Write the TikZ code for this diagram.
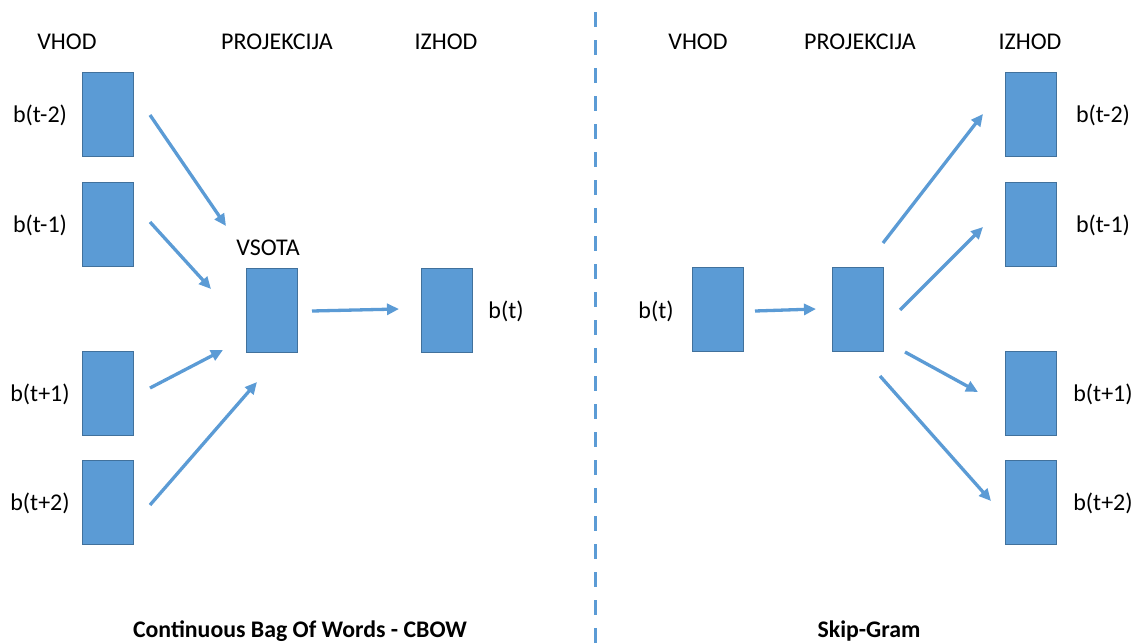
\documentclass[tikz,border=0pt]{standalone}
\usepackage{fontspec}
\setmainfont{Carlito}
\usetikzlibrary{arrows.meta}
\definecolor{boxfill}{HTML}{5B9BD5}
\definecolor{boxline}{HTML}{41719C}
\begin{document}
\begin{tikzpicture}[x=1pt,y=-1pt,
  wbox/.style={draw=boxline,line width=0.8pt,fill=boxfill,minimum width=51pt,minimum height=84pt,inner sep=0pt,anchor=north west},
  lbl/.style={font=\fontsize{24}{28}\selectfont,inner sep=0pt},
  ttl/.style={font=\bfseries\fontsize{23.8}{28}\selectfont,inner sep=0pt},
  conn/.style={draw=boxfill,line width=3.3pt,-{Triangle[length=12pt,width=11pt]}}]
\useasboundingbox (0,0) rectangle (1136,643);
% headers
\node[lbl] (h1) at (67,42) {VHOD};
\node[lbl] (h2) at (277,42) {PROJEKCIJA};
\node[lbl] (h3) at (446,42) {IZHOD};
\node[lbl] (h4) at (698,42) {VHOD};
\node[lbl] (h5) at (860,42) {PROJEKCIJA};
\node[lbl] (h6) at (1030,42) {IZHOD};
% left boxes
\node[wbox] (l1) at (82,72) {};
\node[wbox] (l2) at (82,182) {};
\node[wbox] (l3) at (82,351) {};
\node[wbox] (l4) at (82,460) {};
\node[lbl] (tl1) at (40,115) {b(t-2)};
\node[lbl] (tl2) at (40,225) {b(t-1)};
\node[lbl] (tl3) at (40,394) {b(t+1)};
\node[lbl] (tl4) at (40,503) {b(t+2)};
\node[wbox] (sum) at (246,268) {};
\node[lbl] (sumt) at (268,248) {VSOTA};
\node[wbox] (out) at (421,268) {};
\node[lbl] (outt) at (506,311) {b(t)};
% CBOW arrows
\coordinate (a1s) at (150,115); \coordinate (a1e) at (226,226);
\coordinate (a2s) at (150,222); \coordinate (a2e) at (211,289);
\coordinate (a3s) at (150,388); \coordinate (a3e) at (223,350);
\coordinate (a4s) at (150,505); \coordinate (a4e) at (257,382);
\coordinate (a5s) at (312,311); \coordinate (a5e) at (399,309);
\draw[conn] (a1s) -- (a1e);
\draw[conn] (a2s) -- (a2e);
\draw[conn] (a3s) -- (a3e);
\draw[conn] (a4s) -- (a4e);
\draw[conn] (a5s) -- (a5e);
% divider
\coordinate (d1) at (595,12); \coordinate (d2) at (595,643);
\draw[boxfill,line width=3pt,dash pattern=on 15pt off 13pt] (d1) -- (d2);
% Skip-gram
\node[wbox] (in) at (692,267) {};
\node[lbl] (int) at (656,311) {b(t)};
\node[wbox] (proj) at (832,267) {};
\node[wbox] (r1) at (1005,72) {};
\node[wbox] (r2) at (1005,182) {};
\node[wbox] (r3) at (1005,351) {};
\node[wbox] (r4) at (1005,460) {};
\node[lbl] (tr1) at (1103,115) {b(t-2)};
\node[lbl] (tr2) at (1103,225) {b(t-1)};
\node[lbl] (tr3) at (1103,394) {b(t+1)};
\node[lbl] (tr4) at (1103,503) {b(t+2)};
\coordinate (b1s) at (755,311); \coordinate (b1e) at (816,309);
\coordinate (b2s) at (883,243); \coordinate (b2e) at (983,114);
\coordinate (b3s) at (900,310); \coordinate (b3e) at (983,227);
\coordinate (b4s) at (905,352); \coordinate (b4e) at (978,392);
\coordinate (b5s) at (880,376); \coordinate (b5e) at (991,501);
\draw[conn] (b1s) -- (b1e);
\draw[conn] (b2s) -- (b2e);
\draw[conn] (b3s) -- (b3e);
\draw[conn] (b4s) -- (b4e);
\draw[conn] (b5s) -- (b5e);
% titles
\node[ttl] (t1) at (300,631) {Continuous Bag Of Words - CBOW};
\node[ttl] (t2) at (869,631) {Skip-Gram};
\end{tikzpicture}
\end{document}
